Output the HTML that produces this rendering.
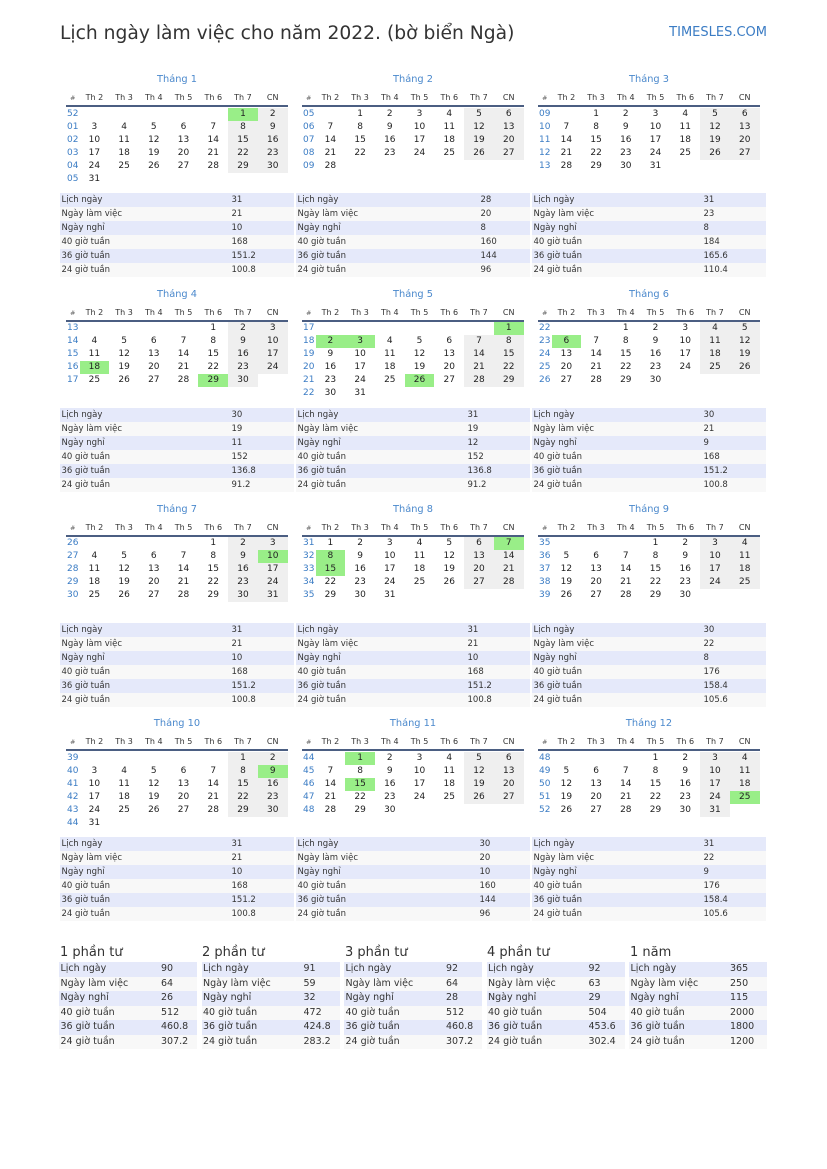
<!DOCTYPE html>
<html><head><meta charset="utf-8">
<style>
html,body{margin:0;padding:0}
body{width:827px;height:1169px;background:#fff;position:relative;overflow:hidden;font-family:"DejaVu Sans","Liberation Sans",sans-serif}
.ttl{position:absolute;left:60px;top:22.5px;font-size:18.7px;line-height:22px;color:#333;white-space:nowrap}
.site{position:absolute;right:60px;top:24.5px;font-size:13px;line-height:16px;color:#3b7cc4;white-space:nowrap}
.b{position:absolute;width:222px;height:120px}
.mt{position:absolute;left:0;top:1px;width:222px;height:18px;line-height:18px;text-align:center;font-size:9.8px;color:#4a88cc;white-space:nowrap}
.hd,.bd{position:absolute;left:0;width:221.6px;table-layout:fixed;border-collapse:collapse}
.hd{top:21px}
.bd{top:37.5px}
.hd td{height:14px;line-height:14px;padding:0;text-align:center;font-size:8px;color:#333;white-space:nowrap;overflow:hidden}
.hd td.k{font-size:6.5px;color:#666}
.bd td{height:13px;line-height:13px;padding:0;text-align:center;font-size:9px;color:#222;white-space:nowrap;overflow:hidden}
td.k{width:13.5px}
.bd td.k{text-align:left;text-indent:1px;color:#3b7cc4}
td.w{background:#efefef}
td.g{background:#99ee88}
.ln{position:absolute;left:0;top:35px;width:222px;height:2px;background:#4b5e82}
.st{position:absolute;width:233.5px;table-layout:fixed;border-collapse:collapse;font-size:8.5px;color:#333}
.st td{height:14px;line-height:14px;padding:0;white-space:nowrap;overflow:hidden}
.st td:first-child{text-indent:1.5px}
tr.a{background:#e5e9fa}
tr.c{background:#f8f8f8}
.qt{position:absolute;top:945.2px;font-size:13px;line-height:16px;color:#333;white-space:nowrap}
.q{position:absolute;top:962px;width:138px;table-layout:fixed;border-collapse:collapse;font-size:9.5px;color:#333}
.q td{height:14.5px;line-height:14.5px;padding:0;white-space:nowrap;overflow:hidden}
.q td:first-child{text-indent:1.5px}
</style></head><body>
<div class="ttl">Lịch ngày làm việc cho năm 2022. (bờ biển Ngà)</div>
<div class="site">TIMESLES.COM</div>

<!-- ROW 1 -->
<div class="b" style="left:66px;top:70px">
<div class="mt">Tháng 1</div>
<table class="hd"><tr><td class="k">#</td><td>Th 2</td><td>Th 3</td><td>Th 4</td><td>Th 5</td><td>Th 6</td><td>Th 7</td><td>CN</td></tr></table>
<div class="ln"></div>
<table class="bd">
<tr><td class="k">52</td><td></td><td></td><td></td><td></td><td></td><td class="g">1</td><td class="w">2</td></tr>
<tr><td class="k">01</td><td>3</td><td>4</td><td>5</td><td>6</td><td>7</td><td class="w">8</td><td class="w">9</td></tr>
<tr><td class="k">02</td><td>10</td><td>11</td><td>12</td><td>13</td><td>14</td><td class="w">15</td><td class="w">16</td></tr>
<tr><td class="k">03</td><td>17</td><td>18</td><td>19</td><td>20</td><td>21</td><td class="w">22</td><td class="w">23</td></tr>
<tr><td class="k">04</td><td>24</td><td>25</td><td>26</td><td>27</td><td>28</td><td class="w">29</td><td class="w">30</td></tr>
<tr><td class="k">05</td><td>31</td><td></td><td></td><td></td><td></td><td></td><td></td></tr>
</table>
</div>
<table class="st" style="left:60px;top:193px"><colgroup><col style="width:171.5px"><col></colgroup>
<tr class="a"><td>Lịch ngày</td><td>31</td></tr><tr class="c"><td>Ngày làm việc</td><td>21</td></tr><tr class="a"><td>Ngày nghỉ</td><td>10</td></tr><tr class="c"><td>40 giờ tuần</td><td>168</td></tr><tr class="a"><td>36 giờ tuần</td><td>151.2</td></tr><tr class="c"><td>24 giờ tuần</td><td>100.8</td></tr></table>

<div class="b" style="left:302px;top:70px">
<div class="mt">Tháng 2</div>
<table class="hd"><tr><td class="k">#</td><td>Th 2</td><td>Th 3</td><td>Th 4</td><td>Th 5</td><td>Th 6</td><td>Th 7</td><td>CN</td></tr></table>
<div class="ln"></div>
<table class="bd">
<tr><td class="k">05</td><td></td><td>1</td><td>2</td><td>3</td><td>4</td><td class="w">5</td><td class="w">6</td></tr>
<tr><td class="k">06</td><td>7</td><td>8</td><td>9</td><td>10</td><td>11</td><td class="w">12</td><td class="w">13</td></tr>
<tr><td class="k">07</td><td>14</td><td>15</td><td>16</td><td>17</td><td>18</td><td class="w">19</td><td class="w">20</td></tr>
<tr><td class="k">08</td><td>21</td><td>22</td><td>23</td><td>24</td><td>25</td><td class="w">26</td><td class="w">27</td></tr>
<tr><td class="k">09</td><td>28</td><td></td><td></td><td></td><td></td><td></td><td></td></tr>
</table>
</div>
<table class="st" style="left:296px;top:193px"><colgroup><col style="width:184.5px"><col></colgroup>
<tr class="a"><td>Lịch ngày</td><td>28</td></tr><tr class="c"><td>Ngày làm việc</td><td>20</td></tr><tr class="a"><td>Ngày nghỉ</td><td>8</td></tr><tr class="c"><td>40 giờ tuần</td><td>160</td></tr><tr class="a"><td>36 giờ tuần</td><td>144</td></tr><tr class="c"><td>24 giờ tuần</td><td>96</td></tr></table>

<div class="b" style="left:538px;top:70px">
<div class="mt">Tháng 3</div>
<table class="hd"><tr><td class="k">#</td><td>Th 2</td><td>Th 3</td><td>Th 4</td><td>Th 5</td><td>Th 6</td><td>Th 7</td><td>CN</td></tr></table>
<div class="ln"></div>
<table class="bd">
<tr><td class="k">09</td><td></td><td>1</td><td>2</td><td>3</td><td>4</td><td class="w">5</td><td class="w">6</td></tr>
<tr><td class="k">10</td><td>7</td><td>8</td><td>9</td><td>10</td><td>11</td><td class="w">12</td><td class="w">13</td></tr>
<tr><td class="k">11</td><td>14</td><td>15</td><td>16</td><td>17</td><td>18</td><td class="w">19</td><td class="w">20</td></tr>
<tr><td class="k">12</td><td>21</td><td>22</td><td>23</td><td>24</td><td>25</td><td class="w">26</td><td class="w">27</td></tr>
<tr><td class="k">13</td><td>28</td><td>29</td><td>30</td><td>31</td><td></td><td></td><td></td></tr>
</table>
</div>
<table class="st" style="left:532px;top:193px"><colgroup><col style="width:171.5px"><col></colgroup>
<tr class="a"><td>Lịch ngày</td><td>31</td></tr><tr class="c"><td>Ngày làm việc</td><td>23</td></tr><tr class="a"><td>Ngày nghỉ</td><td>8</td></tr><tr class="c"><td>40 giờ tuần</td><td>184</td></tr><tr class="a"><td>36 giờ tuần</td><td>165.6</td></tr><tr class="c"><td>24 giờ tuần</td><td>110.4</td></tr></table>

<!-- ROW 2 -->
<div class="b" style="left:66px;top:284.8px">
<div class="mt">Tháng 4</div>
<table class="hd"><tr><td class="k">#</td><td>Th 2</td><td>Th 3</td><td>Th 4</td><td>Th 5</td><td>Th 6</td><td>Th 7</td><td>CN</td></tr></table>
<div class="ln"></div>
<table class="bd">
<tr><td class="k">13</td><td></td><td></td><td></td><td></td><td>1</td><td class="w">2</td><td class="w">3</td></tr>
<tr><td class="k">14</td><td>4</td><td>5</td><td>6</td><td>7</td><td>8</td><td class="w">9</td><td class="w">10</td></tr>
<tr><td class="k">15</td><td>11</td><td>12</td><td>13</td><td>14</td><td>15</td><td class="w">16</td><td class="w">17</td></tr>
<tr><td class="k">16</td><td class="g">18</td><td>19</td><td>20</td><td>21</td><td>22</td><td class="w">23</td><td class="w">24</td></tr>
<tr><td class="k">17</td><td>25</td><td>26</td><td>27</td><td>28</td><td class="g">29</td><td class="w">30</td><td></td></tr>
</table>
</div>
<table class="st" style="left:60px;top:407.8px"><colgroup><col style="width:171.5px"><col></colgroup>
<tr class="a"><td>Lịch ngày</td><td>30</td></tr><tr class="c"><td>Ngày làm việc</td><td>19</td></tr><tr class="a"><td>Ngày nghỉ</td><td>11</td></tr><tr class="c"><td>40 giờ tuần</td><td>152</td></tr><tr class="a"><td>36 giờ tuần</td><td>136.8</td></tr><tr class="c"><td>24 giờ tuần</td><td>91.2</td></tr></table>

<div class="b" style="left:302px;top:284.8px">
<div class="mt">Tháng 5</div>
<table class="hd"><tr><td class="k">#</td><td>Th 2</td><td>Th 3</td><td>Th 4</td><td>Th 5</td><td>Th 6</td><td>Th 7</td><td>CN</td></tr></table>
<div class="ln"></div>
<table class="bd">
<tr><td class="k">17</td><td></td><td></td><td></td><td></td><td></td><td></td><td class="g">1</td></tr>
<tr><td class="k">18</td><td class="g">2</td><td class="g">3</td><td>4</td><td>5</td><td>6</td><td class="w">7</td><td class="w">8</td></tr>
<tr><td class="k">19</td><td>9</td><td>10</td><td>11</td><td>12</td><td>13</td><td class="w">14</td><td class="w">15</td></tr>
<tr><td class="k">20</td><td>16</td><td>17</td><td>18</td><td>19</td><td>20</td><td class="w">21</td><td class="w">22</td></tr>
<tr><td class="k">21</td><td>23</td><td>24</td><td>25</td><td class="g">26</td><td>27</td><td class="w">28</td><td class="w">29</td></tr>
<tr><td class="k">22</td><td>30</td><td>31</td><td></td><td></td><td></td><td></td><td></td></tr>
</table>
</div>
<table class="st" style="left:296px;top:407.8px"><colgroup><col style="width:171.5px"><col></colgroup>
<tr class="a"><td>Lịch ngày</td><td>31</td></tr><tr class="c"><td>Ngày làm việc</td><td>19</td></tr><tr class="a"><td>Ngày nghỉ</td><td>12</td></tr><tr class="c"><td>40 giờ tuần</td><td>152</td></tr><tr class="a"><td>36 giờ tuần</td><td>136.8</td></tr><tr class="c"><td>24 giờ tuần</td><td>91.2</td></tr></table>

<div class="b" style="left:538px;top:284.8px">
<div class="mt">Tháng 6</div>
<table class="hd"><tr><td class="k">#</td><td>Th 2</td><td>Th 3</td><td>Th 4</td><td>Th 5</td><td>Th 6</td><td>Th 7</td><td>CN</td></tr></table>
<div class="ln"></div>
<table class="bd">
<tr><td class="k">22</td><td></td><td></td><td>1</td><td>2</td><td>3</td><td class="w">4</td><td class="w">5</td></tr>
<tr><td class="k">23</td><td class="g">6</td><td>7</td><td>8</td><td>9</td><td>10</td><td class="w">11</td><td class="w">12</td></tr>
<tr><td class="k">24</td><td>13</td><td>14</td><td>15</td><td>16</td><td>17</td><td class="w">18</td><td class="w">19</td></tr>
<tr><td class="k">25</td><td>20</td><td>21</td><td>22</td><td>23</td><td>24</td><td class="w">25</td><td class="w">26</td></tr>
<tr><td class="k">26</td><td>27</td><td>28</td><td>29</td><td>30</td><td></td><td></td><td></td></tr>
</table>
</div>
<table class="st" style="left:532px;top:407.8px"><colgroup><col style="width:171.5px"><col></colgroup>
<tr class="a"><td>Lịch ngày</td><td>30</td></tr><tr class="c"><td>Ngày làm việc</td><td>21</td></tr><tr class="a"><td>Ngày nghỉ</td><td>9</td></tr><tr class="c"><td>40 giờ tuần</td><td>168</td></tr><tr class="a"><td>36 giờ tuần</td><td>151.2</td></tr><tr class="c"><td>24 giờ tuần</td><td>100.8</td></tr></table>

<!-- ROW 3 -->
<div class="b" style="left:66px;top:499.6px">
<div class="mt">Tháng 7</div>
<table class="hd"><tr><td class="k">#</td><td>Th 2</td><td>Th 3</td><td>Th 4</td><td>Th 5</td><td>Th 6</td><td>Th 7</td><td>CN</td></tr></table>
<div class="ln"></div>
<table class="bd">
<tr><td class="k">26</td><td></td><td></td><td></td><td></td><td>1</td><td class="w">2</td><td class="w">3</td></tr>
<tr><td class="k">27</td><td>4</td><td>5</td><td>6</td><td>7</td><td>8</td><td class="w">9</td><td class="g">10</td></tr>
<tr><td class="k">28</td><td>11</td><td>12</td><td>13</td><td>14</td><td>15</td><td class="w">16</td><td class="w">17</td></tr>
<tr><td class="k">29</td><td>18</td><td>19</td><td>20</td><td>21</td><td>22</td><td class="w">23</td><td class="w">24</td></tr>
<tr><td class="k">30</td><td>25</td><td>26</td><td>27</td><td>28</td><td>29</td><td class="w">30</td><td class="w">31</td></tr>
</table>
</div>
<table class="st" style="left:60px;top:622.6px"><colgroup><col style="width:171.5px"><col></colgroup>
<tr class="a"><td>Lịch ngày</td><td>31</td></tr><tr class="c"><td>Ngày làm việc</td><td>21</td></tr><tr class="a"><td>Ngày nghỉ</td><td>10</td></tr><tr class="c"><td>40 giờ tuần</td><td>168</td></tr><tr class="a"><td>36 giờ tuần</td><td>151.2</td></tr><tr class="c"><td>24 giờ tuần</td><td>100.8</td></tr></table>

<div class="b" style="left:302px;top:499.6px">
<div class="mt">Tháng 8</div>
<table class="hd"><tr><td class="k">#</td><td>Th 2</td><td>Th 3</td><td>Th 4</td><td>Th 5</td><td>Th 6</td><td>Th 7</td><td>CN</td></tr></table>
<div class="ln"></div>
<table class="bd">
<tr><td class="k">31</td><td>1</td><td>2</td><td>3</td><td>4</td><td>5</td><td class="w">6</td><td class="g">7</td></tr>
<tr><td class="k">32</td><td class="g">8</td><td>9</td><td>10</td><td>11</td><td>12</td><td class="w">13</td><td class="w">14</td></tr>
<tr><td class="k">33</td><td class="g">15</td><td>16</td><td>17</td><td>18</td><td>19</td><td class="w">20</td><td class="w">21</td></tr>
<tr><td class="k">34</td><td>22</td><td>23</td><td>24</td><td>25</td><td>26</td><td class="w">27</td><td class="w">28</td></tr>
<tr><td class="k">35</td><td>29</td><td>30</td><td>31</td><td></td><td></td><td></td><td></td></tr>
</table>
</div>
<table class="st" style="left:296px;top:622.6px"><colgroup><col style="width:171.5px"><col></colgroup>
<tr class="a"><td>Lịch ngày</td><td>31</td></tr><tr class="c"><td>Ngày làm việc</td><td>21</td></tr><tr class="a"><td>Ngày nghỉ</td><td>10</td></tr><tr class="c"><td>40 giờ tuần</td><td>168</td></tr><tr class="a"><td>36 giờ tuần</td><td>151.2</td></tr><tr class="c"><td>24 giờ tuần</td><td>100.8</td></tr></table>

<div class="b" style="left:538px;top:499.6px">
<div class="mt">Tháng 9</div>
<table class="hd"><tr><td class="k">#</td><td>Th 2</td><td>Th 3</td><td>Th 4</td><td>Th 5</td><td>Th 6</td><td>Th 7</td><td>CN</td></tr></table>
<div class="ln"></div>
<table class="bd">
<tr><td class="k">35</td><td></td><td></td><td></td><td>1</td><td>2</td><td class="w">3</td><td class="w">4</td></tr>
<tr><td class="k">36</td><td>5</td><td>6</td><td>7</td><td>8</td><td>9</td><td class="w">10</td><td class="w">11</td></tr>
<tr><td class="k">37</td><td>12</td><td>13</td><td>14</td><td>15</td><td>16</td><td class="w">17</td><td class="w">18</td></tr>
<tr><td class="k">38</td><td>19</td><td>20</td><td>21</td><td>22</td><td>23</td><td class="w">24</td><td class="w">25</td></tr>
<tr><td class="k">39</td><td>26</td><td>27</td><td>28</td><td>29</td><td>30</td><td></td><td></td></tr>
</table>
</div>
<table class="st" style="left:532px;top:622.6px"><colgroup><col style="width:171.5px"><col></colgroup>
<tr class="a"><td>Lịch ngày</td><td>30</td></tr><tr class="c"><td>Ngày làm việc</td><td>22</td></tr><tr class="a"><td>Ngày nghỉ</td><td>8</td></tr><tr class="c"><td>40 giờ tuần</td><td>176</td></tr><tr class="a"><td>36 giờ tuần</td><td>158.4</td></tr><tr class="c"><td>24 giờ tuần</td><td>105.6</td></tr></table>

<!-- ROW 4 -->
<div class="b" style="left:66px;top:714.4px">
<div class="mt">Tháng 10</div>
<table class="hd"><tr><td class="k">#</td><td>Th 2</td><td>Th 3</td><td>Th 4</td><td>Th 5</td><td>Th 6</td><td>Th 7</td><td>CN</td></tr></table>
<div class="ln"></div>
<table class="bd">
<tr><td class="k">39</td><td></td><td></td><td></td><td></td><td></td><td class="w">1</td><td class="w">2</td></tr>
<tr><td class="k">40</td><td>3</td><td>4</td><td>5</td><td>6</td><td>7</td><td class="w">8</td><td class="g">9</td></tr>
<tr><td class="k">41</td><td>10</td><td>11</td><td>12</td><td>13</td><td>14</td><td class="w">15</td><td class="w">16</td></tr>
<tr><td class="k">42</td><td>17</td><td>18</td><td>19</td><td>20</td><td>21</td><td class="w">22</td><td class="w">23</td></tr>
<tr><td class="k">43</td><td>24</td><td>25</td><td>26</td><td>27</td><td>28</td><td class="w">29</td><td class="w">30</td></tr>
<tr><td class="k">44</td><td>31</td><td></td><td></td><td></td><td></td><td></td><td></td></tr>
</table>
</div>
<table class="st" style="left:60px;top:837.4px"><colgroup><col style="width:171.5px"><col></colgroup>
<tr class="a"><td>Lịch ngày</td><td>31</td></tr><tr class="c"><td>Ngày làm việc</td><td>21</td></tr><tr class="a"><td>Ngày nghỉ</td><td>10</td></tr><tr class="c"><td>40 giờ tuần</td><td>168</td></tr><tr class="a"><td>36 giờ tuần</td><td>151.2</td></tr><tr class="c"><td>24 giờ tuần</td><td>100.8</td></tr></table>

<div class="b" style="left:302px;top:714.4px">
<div class="mt">Tháng 11</div>
<table class="hd"><tr><td class="k">#</td><td>Th 2</td><td>Th 3</td><td>Th 4</td><td>Th 5</td><td>Th 6</td><td>Th 7</td><td>CN</td></tr></table>
<div class="ln"></div>
<table class="bd">
<tr><td class="k">44</td><td></td><td class="g">1</td><td>2</td><td>3</td><td>4</td><td class="w">5</td><td class="w">6</td></tr>
<tr><td class="k">45</td><td>7</td><td>8</td><td>9</td><td>10</td><td>11</td><td class="w">12</td><td class="w">13</td></tr>
<tr><td class="k">46</td><td>14</td><td class="g">15</td><td>16</td><td>17</td><td>18</td><td class="w">19</td><td class="w">20</td></tr>
<tr><td class="k">47</td><td>21</td><td>22</td><td>23</td><td>24</td><td>25</td><td class="w">26</td><td class="w">27</td></tr>
<tr><td class="k">48</td><td>28</td><td>29</td><td>30</td><td></td><td></td><td></td><td></td></tr>
</table>
</div>
<table class="st" style="left:296px;top:837.4px"><colgroup><col style="width:183.5px"><col></colgroup>
<tr class="a"><td>Lịch ngày</td><td>30</td></tr><tr class="c"><td>Ngày làm việc</td><td>20</td></tr><tr class="a"><td>Ngày nghỉ</td><td>10</td></tr><tr class="c"><td>40 giờ tuần</td><td>160</td></tr><tr class="a"><td>36 giờ tuần</td><td>144</td></tr><tr class="c"><td>24 giờ tuần</td><td>96</td></tr></table>

<div class="b" style="left:538px;top:714.4px">
<div class="mt">Tháng 12</div>
<table class="hd"><tr><td class="k">#</td><td>Th 2</td><td>Th 3</td><td>Th 4</td><td>Th 5</td><td>Th 6</td><td>Th 7</td><td>CN</td></tr></table>
<div class="ln"></div>
<table class="bd">
<tr><td class="k">48</td><td></td><td></td><td></td><td>1</td><td>2</td><td class="w">3</td><td class="w">4</td></tr>
<tr><td class="k">49</td><td>5</td><td>6</td><td>7</td><td>8</td><td>9</td><td class="w">10</td><td class="w">11</td></tr>
<tr><td class="k">50</td><td>12</td><td>13</td><td>14</td><td>15</td><td>16</td><td class="w">17</td><td class="w">18</td></tr>
<tr><td class="k">51</td><td>19</td><td>20</td><td>21</td><td>22</td><td>23</td><td class="w">24</td><td class="g">25</td></tr>
<tr><td class="k">52</td><td>26</td><td>27</td><td>28</td><td>29</td><td>30</td><td class="w">31</td><td></td></tr>
</table>
</div>
<table class="st" style="left:532px;top:837.4px"><colgroup><col style="width:171.5px"><col></colgroup>
<tr class="a"><td>Lịch ngày</td><td>31</td></tr><tr class="c"><td>Ngày làm việc</td><td>22</td></tr><tr class="a"><td>Ngày nghỉ</td><td>9</td></tr><tr class="c"><td>40 giờ tuần</td><td>176</td></tr><tr class="a"><td>36 giờ tuần</td><td>158.4</td></tr><tr class="c"><td>24 giờ tuần</td><td>105.6</td></tr></table>

<!-- QUARTERS -->
<div class="qt" style="left:60px">1 phần tư</div>
<div class="qt" style="left:202px">2 phần tư</div>
<div class="qt" style="left:345px">3 phần tư</div>
<div class="qt" style="left:487px">4 phần tư</div>
<div class="qt" style="left:630px">1 năm</div>

<table class="q" style="left:59px"><colgroup><col style="width:102px"><col></colgroup>
<tr class="a"><td>Lịch ngày</td><td>90</td></tr><tr class="c"><td>Ngày làm việc</td><td>64</td></tr><tr class="a"><td>Ngày nghỉ</td><td>26</td></tr><tr class="c"><td>40 giờ tuần</td><td>512</td></tr><tr class="a"><td>36 giờ tuần</td><td>460.8</td></tr><tr class="c"><td>24 giờ tuần</td><td>307.2</td></tr></table>
<table class="q" style="left:201.5px"><colgroup><col style="width:102px"><col></colgroup>
<tr class="a"><td>Lịch ngày</td><td>91</td></tr><tr class="c"><td>Ngày làm việc</td><td>59</td></tr><tr class="a"><td>Ngày nghỉ</td><td>32</td></tr><tr class="c"><td>40 giờ tuần</td><td>472</td></tr><tr class="a"><td>36 giờ tuần</td><td>424.8</td></tr><tr class="c"><td>24 giờ tuần</td><td>283.2</td></tr></table>
<table class="q" style="left:344px"><colgroup><col style="width:102px"><col></colgroup>
<tr class="a"><td>Lịch ngày</td><td>92</td></tr><tr class="c"><td>Ngày làm việc</td><td>64</td></tr><tr class="a"><td>Ngày nghỉ</td><td>28</td></tr><tr class="c"><td>40 giờ tuần</td><td>512</td></tr><tr class="a"><td>36 giờ tuần</td><td>460.8</td></tr><tr class="c"><td>24 giờ tuần</td><td>307.2</td></tr></table>
<table class="q" style="left:486.5px"><colgroup><col style="width:102px"><col></colgroup>
<tr class="a"><td>Lịch ngày</td><td>92</td></tr><tr class="c"><td>Ngày làm việc</td><td>63</td></tr><tr class="a"><td>Ngày nghỉ</td><td>29</td></tr><tr class="c"><td>40 giờ tuần</td><td>504</td></tr><tr class="a"><td>36 giờ tuần</td><td>453.6</td></tr><tr class="c"><td>24 giờ tuần</td><td>302.4</td></tr></table>
<table class="q" style="left:629px"><colgroup><col style="width:101px"><col></colgroup>
<tr class="a"><td>Lịch ngày</td><td>365</td></tr><tr class="c"><td>Ngày làm việc</td><td>250</td></tr><tr class="a"><td>Ngày nghỉ</td><td>115</td></tr><tr class="c"><td>40 giờ tuần</td><td>2000</td></tr><tr class="a"><td>36 giờ tuần</td><td>1800</td></tr><tr class="c"><td>24 giờ tuần</td><td>1200</td></tr></table>

</body></html>
